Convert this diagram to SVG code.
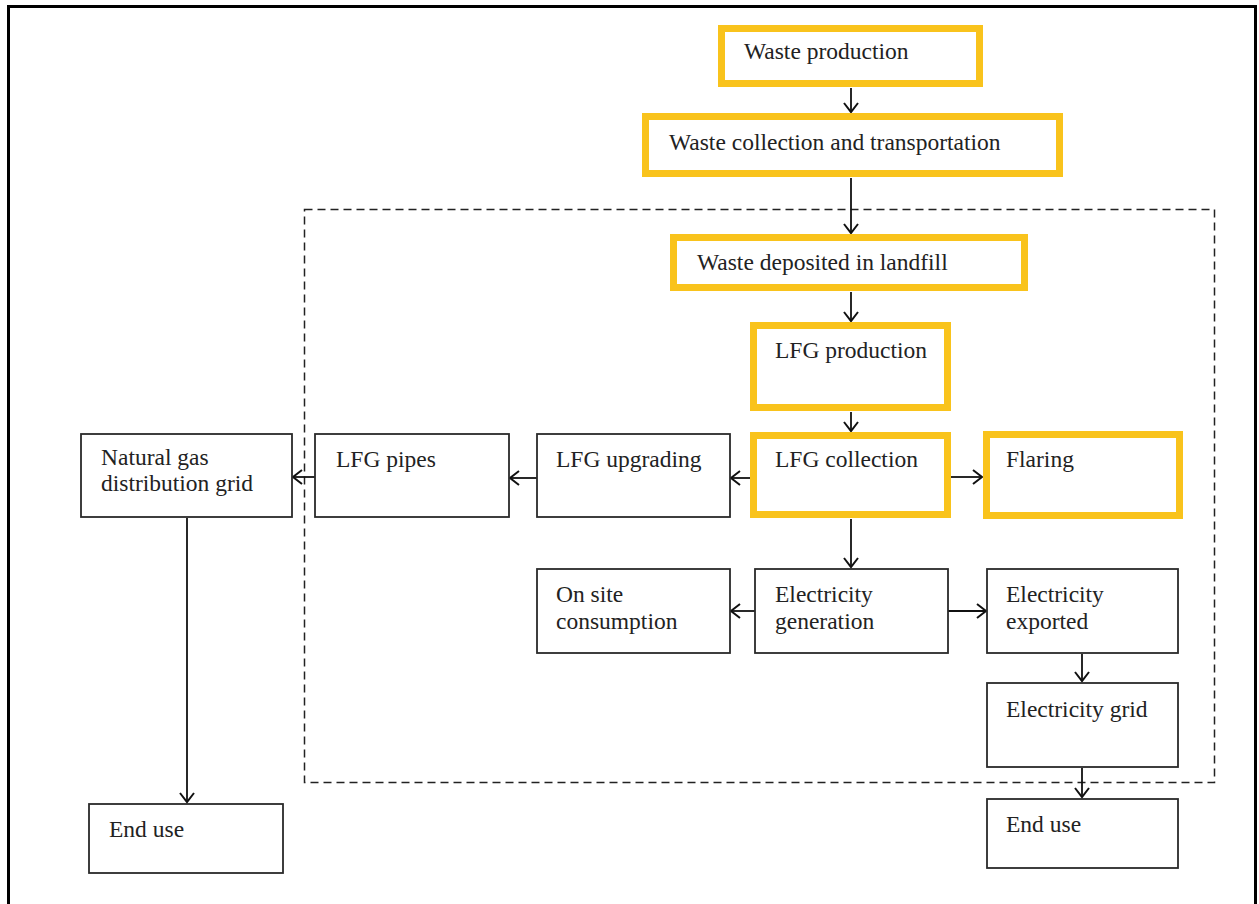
<svg xmlns="http://www.w3.org/2000/svg" width="1259" height="904" viewBox="0 0 1259 904">
<defs>
<style>
.y{fill:#fff;stroke:#F9C31C;stroke-width:7}
.b{fill:#fff;stroke:#2a2a2a;stroke-width:1.8}
.t{font-family:"Liberation Serif","Times New Roman",serif;font-size:23.5px;fill:#222}
.c{fill:none;stroke:#111;stroke-width:1.8}
</style>
<marker id="ah" markerUnits="userSpaceOnUse" markerWidth="20" markerHeight="20" refX="10" refY="8" orient="auto">
<path d="M1,1 L10,8 L1,15" fill="none" stroke="#111" stroke-width="2"/>
</marker>
</defs>
<rect width="1259" height="904" fill="#fff"/>
<path d="M8.5,904 V6.5 H1255.5 V904" fill="none" stroke="#000" stroke-width="3"/>
<rect x="304.5" y="209.5" width="910" height="573" fill="none" stroke="#222" stroke-width="1.5" stroke-dasharray="8,5"/>

<g id="connectors">
<line class="c" x1="851" y1="88" x2="851" y2="112" marker-end="url(#ah)"/>
<line class="c" x1="851" y1="178" x2="851" y2="233" marker-end="url(#ah)"/>
<line class="c" x1="851" y1="292" x2="851" y2="321" marker-end="url(#ah)"/>
<line class="c" x1="851" y1="412" x2="851" y2="431" marker-end="url(#ah)"/>
<line class="c" x1="951" y1="477" x2="982" y2="477" marker-end="url(#ah)"/>
<line class="c" x1="750" y1="478" x2="731" y2="478" marker-end="url(#ah)"/>
<line class="c" x1="537" y1="478" x2="510" y2="478" marker-end="url(#ah)"/>
<line class="c" x1="315" y1="477" x2="293" y2="477" marker-end="url(#ah)"/>
<line class="c" x1="187" y1="518" x2="187" y2="802" marker-end="url(#ah)"/>
<line class="c" x1="851" y1="519" x2="851" y2="567" marker-end="url(#ah)"/>
<line class="c" x1="755" y1="611" x2="731" y2="611" marker-end="url(#ah)"/>
<line class="c" x1="948" y1="611" x2="986" y2="611" marker-end="url(#ah)"/>
<line class="c" x1="1082" y1="654" x2="1082" y2="681" marker-end="url(#ah)"/>
<line class="c" x1="1082" y1="768" x2="1082" y2="797" marker-end="url(#ah)"/>
</g>

<g id="waste-production"><rect class="y" x="721.5" y="28.5" width="258" height="55"/><text class="t" x="744" y="59">Waste production</text></g>
<g id="waste-collection"><rect class="y" x="645.5" y="116.5" width="414" height="57"/><text class="t" x="669" y="150">Waste collection and transportation</text></g>
<g id="waste-deposited"><rect class="y" x="673.5" y="237.5" width="351" height="50"/><text class="t" x="697" y="270">Waste deposited in landfill</text></g>
<g id="lfg-production"><rect class="y" x="753.5" y="325.5" width="194" height="82"/><text class="t" x="775" y="358">LFG production</text></g>
<g id="lfg-collection"><rect class="y" x="753.5" y="435.5" width="194" height="79"/><text class="t" x="775" y="467">LFG collection</text></g>
<g id="flaring"><rect class="y" x="986.5" y="434.5" width="193" height="81"/><text class="t" x="1006" y="467">Flaring</text></g>
<g id="lfg-upgrading"><rect class="b" x="537" y="434" width="193" height="83"/><text class="t" x="556" y="467">LFG upgrading</text></g>
<g id="lfg-pipes"><rect class="b" x="315" y="434" width="194" height="83"/><text class="t" x="336" y="467">LFG pipes</text></g>
<g id="natural-gas-grid"><rect class="b" x="81" y="434" width="211" height="83"/><text class="t" x="101" y="465">Natural gas</text><text class="t" x="101" y="491">distribution grid</text></g>
<g id="end-use-left"><rect class="b" x="89" y="804" width="194" height="69"/><text class="t" x="109" y="837">End use</text></g>
<g id="on-site"><rect class="b" x="537" y="569" width="193" height="84"/><text class="t" x="556" y="602">On site</text><text class="t" x="556" y="629">consumption</text></g>
<g id="elec-generation"><rect class="b" x="755" y="569" width="193" height="84"/><text class="t" x="775" y="602">Electricity</text><text class="t" x="775" y="629">generation</text></g>
<g id="elec-exported"><rect class="b" x="987" y="569" width="191" height="84"/><text class="t" x="1006" y="602">Electricity</text><text class="t" x="1006" y="629">exported</text></g>
<g id="elec-grid"><rect class="b" x="987" y="683" width="191" height="84"/><text class="t" x="1006" y="717">Electricity grid</text></g>
<g id="end-use-right"><rect class="b" x="987" y="799" width="191" height="69"/><text class="t" x="1006" y="832">End use</text></g>
</svg>
